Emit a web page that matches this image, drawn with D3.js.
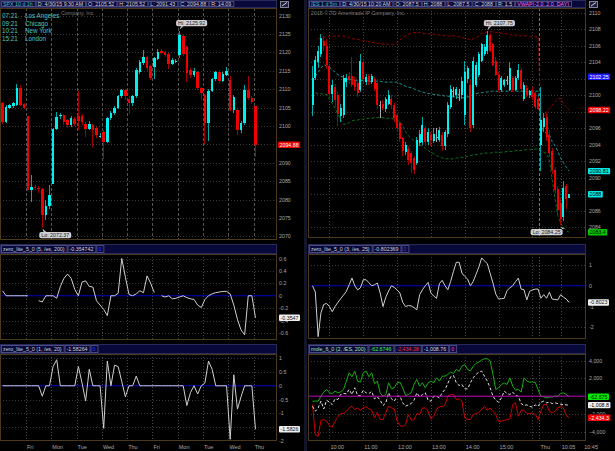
<!DOCTYPE html>
<html><head><meta charset="utf-8">
<script src="https://cdn.jsdelivr.net/npm/d3@7/dist/d3.min.js"></script>
<style>html,body{margin:0;padding:0;background:#000;overflow:hidden}svg{display:block}</style>
</head><body>
<script>
// ================= DATA =================
// SPX 10 d 1h (hourly bars, 7 per session)
const spxDayLabels = ["Fri","Mon","Tue","Wed","Thu","Fri","Mon","Tue","Wed","Thu"];
const spxOpen = [2106.1,2101.1,2105.0,2105.4,2105.7,2110.2,2106.0,
 2102.6,2082.6,2083.4,2083.2,2082.8,2075.8,2078.2,
 2084.1,2099.2,2102.6,2103.0,2101.6,2100.2,2102.0,
 2102.8,2102.8,2100.5,2099.2,2100.2,2099.5,2097.2,
 2098.3,2095.7,2102.1,2103.4,2105.0,2108.0,2109.8,
 2107.2,2106.1,2108.0,2114.7,2117.0,2118.6,2116.3,
 2116.1,2118.1,2120.3,2120.0,2119.5,2116.8,2117.4,
 2119.3,2124.5,2121.4,2115.2,2113.8,2114.7,2110.2,
 2108.4,2100.7,2109.6,2112.7,2114.7,2112.2,2113.8,
 2112.5,2104.3,2104.3,2098.9,2100.7,2109.8,2107.5,
 2105.52];
const spxHigh = [2106.5,2105.8,2106.0,2106.5,2111.3,2111.0,2106.3,
 2102.6,2086.7,2084.0,2083.8,2083.2,2080.0,2084.0,
 2099.5,2103.9,2103.5,2103.3,2102.0,2102.6,2102.4,
 2109.6,2103.2,2101.0,2101.2,2100.6,2099.8,2098.2,
 2098.8,2102.5,2104.0,2105.3,2108.5,2110.0,2110.0,
 2108.0,2108.5,2115.6,2118.0,2120.5,2119.0,2116.5,
 2118.8,2120.9,2120.8,2120.4,2119.8,2118.4,2118.3,
 2125.92,2125.0,2121.8,2115.6,2115.6,2115.0,2110.6,
 2108.6,2110.0,2113.0,2115.0,2115.2,2114.6,2116.0,
 2113.6,2108.4,2104.8,2101.4,2111.0,2113.6,2108.0,
 2105.52];
const spxLow = [2100.5,2100.8,2104.6,2105.0,2105.5,2105.3,2104.6,
 2082.2,2079.4,2082.5,2081.8,2072.37,2074.5,2077.5,
 2084.1,2099.0,2102.0,2100.3,2099.4,2099.8,2100.0,
 2099.0,2100.2,2097.0,2098.8,2094.4,2096.6,2096.8,
 2091.1,2095.4,2101.6,2103.0,2104.6,2107.6,2107.0,
 2103.2,2105.5,2107.5,2114.2,2116.5,2114.8,2112.5,
 2112.8,2117.8,2119.5,2118.8,2115.5,2116.5,2117.0,
 2118.5,2119.0,2112.0,2113.0,2113.4,2109.8,2107.0,
 2095.0,2096.0,2109.2,2112.3,2111.6,2111.8,2113.5,
 2104.0,2103.5,2097.4,2098.2,2100.3,2107.0,2106.0,
 2091.43];
const spxClose = [2101.1,2105.2,2105.6,2106.1,2110.2,2105.7,2105.0,
 2082.6,2083.5,2083.0,2082.9,2075.8,2078.2,2081.2,
 2099.2,2102.5,2103.0,2101.1,2100.2,2102.2,2100.4,
 2101.2,2101.0,2099.2,2100.6,2098.8,2097.4,2097.3,
 2095.7,2102.1,2103.4,2105.0,2108.0,2109.8,2108.0,
 2106.1,2108.0,2115.2,2117.4,2118.6,2115.6,2112.9,
 2118.4,2120.2,2119.9,2119.2,2116.8,2117.9,2117.7,
 2124.7,2119.5,2114.5,2113.8,2115.0,2110.2,2109.0,
 2100.7,2109.6,2112.7,2114.7,2112.2,2114.2,2114.8,
 2104.3,2107.8,2098.9,2100.9,2109.8,2107.5,2106.6,
 2094.88];
const spxPriceTicks = [2070,2075,2080,2085,2090,2095,2100,2105,2110,2115,2120,2125,2130];
// zero_lite_5_0 (5, /es, 200)
const spxZero5 = [0.08,0,0,0,0,0,0,0,null,null,
 -0.08,-0.1,0,0,0,-0.04,0.15,0.28,0.35,0.28,
 0.1,0,0.22,0.24,0.15,0.14,-0.08,-0.15,-0.22,-0.32,
 0,0,0.04,0.6,0.3,0.02,0,0.03,0.08,0.05,
 0.32,0.2,0.05,null,0,-0.02,0,-0.05,-0.04,-0.02,
 0,-0.03,-0.05,-0.06,-0.15,-0.19,-0.06,0,0.03,0.05,
 0.06,0.07,0.07,0.03,-0.15,-0.38,-0.55,-0.63,0,0,
 -0.354742];
const spxZero5Ticks = [0.6,0.4,0.2,0,-0.2,-0.4,-0.6];
// zero_lite_5_0 (1, /es, 20)
const spxZero1 = [0,0,0,0,0,0,0,0,0,0,
 0,-0.38,0,0,0.7,0.95,0,0,0,0,
 0,0.7,0.1,-0.55,0.6,0,0,0,-1.55,0.9,
 0,0.75,0.7,0.15,-0.4,0,0,0.35,0,0,
 0,0,0,0,0,0,0,0,0,0,
 0,-0.72,-0.25,0,-0.3,0,0.1,0.9,0.6,0,
 0,0,0,-1.95,0.4,-0.85,-0.4,0,0,0,
 -1.58264];
const spxZero1Ticks = [1,0.5,0,-0.5,-1,-1.5,-2];

// /ES 1 d 5m
const esOpen = [2098.8,2102.1,2104.0,2105.0,2106.6,2106.0,2103.5,2100.2,2101.0,2100.0,
 2097.5,2097.6,2101.6,2102.4,2102.3,2101.8,2101.5,2100.7,2104.0,2101.6,
 2102.3,2101.6,2102.0,2101.5,2098.8,2099.0,2098.4,2099.0,2099.6,2098.8,
 2097.6,2096.6,2094.8,2093.1,2093.5,2093.0,2092.4,2091.8,2094.2,2094.3,
 2096.0,2094.3,2095.2,2094.5,2095.0,2094.6,2095.2,2093.8,2095.3,2098.6,
 2100.5,2100.0,2100.2,2100.0,2097.6,2102.0,2101.3,2096.4,2101.3,2102.5,
 2104.2,2105.0,2105.4,2107.3,2106.2,2104.2,2102.5,2100.7,2101.3,2101.9,
 2100.7,2102.1,2100.7,2102.1,2103.1,2099.6,2100.9,2100.0,2100.7,2100.3,
 2099.6,2094.0,2096.2,2097.4,2095.2,2093.3,2091.0,2088.6,2087.0,2085.2,2089.0,2087.5];
const esHigh = [2103.5,2104.8,2106.0,2107.4,2107.2,2106.8,2103.8,2101.8,2101.4,2100.4,
 2099.0,2102.5,2102.6,2102.8,2104.6,2102.2,2101.8,2105.0,2104.3,2102.6,
 2102.6,2102.6,2102.2,2101.8,2099.3,2099.4,2099.8,2100.6,2100.0,2099.1,
 2097.8,2096.9,2095.0,2094.4,2093.8,2093.2,2092.6,2095.0,2095.8,2097.4,
 2096.3,2096.0,2095.6,2096.0,2096.0,2096.2,2095.6,2095.8,2099.2,2101.2,
 2101.0,2101.0,2100.8,2102.2,2104.2,2103.6,2101.8,2104.6,2104.0,2105.3,
 2106.4,2106.2,2107.75,2107.6,2106.4,2104.6,2102.8,2102.4,2102.0,2102.4,
 2104.0,2102.4,2102.4,2103.8,2103.3,2101.6,2101.2,2100.6,2101.0,2100.5,
 2099.8,2101.0,2097.8,2097.8,2095.8,2093.6,2091.3,2089.0,2087.5,2089.6,2089.3,2088.0];
const esLow = [2097.5,2101.8,2103.3,2104.6,2105.4,2103.2,2099.6,2099.2,2098.6,2096.3,
 2096.8,2097.2,2101.0,2101.4,2101.0,2100.5,2099.8,2100.4,2101.5,2101.2,
 2101.2,2101.4,2100.5,2098.4,2097.2,2098.2,2098.0,2098.8,2098.3,2096.8,
 2095.5,2094.3,2092.6,2092.8,2091.6,2090.6,2090.5,2091.5,2093.9,2094.0,
 2094.0,2094.0,2093.8,2094.2,2094.3,2094.3,2093.2,2093.4,2095.0,2098.4,
 2099.8,2099.6,2099.3,2099.6,2096.4,2101.5,2095.6,2096.0,2101.0,2102.2,
 2104.0,2104.8,2105.0,2105.2,2103.5,2102.3,2100.4,2100.4,2101.0,2101.2,
 2100.5,2100.4,2100.5,2101.8,2100.5,2099.3,2099.8,2099.7,2099.4,2098.4,
 2098.2,2090.8,2095.5,2094.5,2092.5,2090.5,2088.0,2085.6,2084.25,2084.8,2086.2,2087.5];
const esClose = [2102.1,2104.3,2105.4,2107.0,2106.0,2103.7,2100.2,2101.2,2099.4,2097.7,
 2098.5,2102.1,2102.1,2101.8,2101.3,2101.0,2100.3,2104.2,2102.0,2102.2,
 2101.6,2102.3,2100.8,2098.8,2098.8,2098.5,2099.5,2100.0,2098.8,2097.2,
 2096.0,2094.7,2093.2,2094.0,2092.2,2091.8,2091.0,2094.6,2095.3,2096.4,
 2094.4,2095.6,2094.6,2095.3,2095.0,2095.8,2093.8,2095.5,2098.8,2100.8,
 2100.5,2100.8,2100.2,2101.7,2102.8,2103.3,2096.0,2104.2,2103.7,2105.0,
 2106.2,2105.8,2107.3,2105.4,2103.7,2102.5,2100.7,2102.1,2101.8,2101.9,
 2103.3,2100.7,2102.1,2103.1,2100.8,2101.3,2100.0,2100.5,2099.8,2098.6,
 2098.4,2097.0,2097.2,2095.0,2093.0,2091.0,2088.5,2086.1,2085.0,2088.8,2087.4,2088.0];
// VWAP(-2.0, 2.0, DAY)
const esVwapUpper = [null,null,2106.8,2107.0,2107.0,2107.1,2107.1,2107.1,2107.2,2107.2,
 2107.2,2107.2,2107.1,2107.0,2106.9,2106.8,2106.8,2106.7,2106.6,2106.6,
 2106.5,2106.4,2106.4,2106.3,2106.3,2106.2,2106.2,2106.2,2106.2,2106.2,
 2106.4,2106.7,2107.0,2107.2,2107.4,2107.5,2107.6,2107.6,2107.6,2107.5,
 2107.5,2107.5,2107.4,2107.4,2107.3,2107.3,2107.3,2107.2,2107.2,2107.2,
 2107.2,2107.2,2107.1,2107.0,2106.9,2106.8,2106.8,2106.8,2107.0,2107.2,
 2107.5,2107.6,2107.7,2107.7,2107.7,2107.6,2107.6,2107.5,2107.5,2107.4,
 2107.4,2107.3,2107.3,2107.3,2107.2,2107.2,2107.2,2107.1,2107.1,2107.1,
 2107.1,2097.0,2097.5,2098.0,2098.4,2098.8,2099.2,2099.6,2099.6,2099.0,2098.6,2098.22];
const esVwap = [null,2102.3,2102.8,2103.3,2103.7,2103.6,2103.4,2103.1,2102.8,2102.5,
 2102.3,2102.2,2102.0,2101.9,2101.9,2101.8,2101.8,2101.8,2101.8,2101.8,
 2101.7,2101.7,2101.7,2101.7,2101.7,2101.6,2101.6,2101.6,2101.6,2101.6,
 2101.6,2101.4,2101.3,2101.1,2101.0,2100.9,2100.8,2100.6,2100.5,2100.4,
 2100.3,2100.2,2100.2,2100.1,2100.1,2100.0,2100.0,2099.9,2099.9,2099.8,
 2099.8,2099.8,2099.7,2099.7,2099.7,2099.8,2099.9,2100.1,2100.2,2100.3,
 2100.3,2100.4,2100.4,2100.5,2100.5,2100.5,2100.5,2100.5,2100.5,2100.5,
 2100.5,2100.5,2100.5,2100.5,2100.5,2100.5,2100.5,2100.5,2100.5,2100.5,
 2100.5,2096.5,2095.6,2095.4,2095.2,2094.4,2093.9,2093.2,2092.4,2091.8,2091.3,2090.81];
const esVwapLower = [null,2100.3,2100.2,2100.2,2100.1,2100.1,2099.5,2099.0,2098.4,2097.7,
 2097.0,2096.5,2096.5,2096.7,2096.9,2097.0,2097.0,2097.1,2097.1,2097.2,
 2097.2,2097.2,2097.3,2097.3,2097.3,2097.3,2097.2,2097.2,2097.2,2097.1,
 2097.0,2096.8,2096.3,2095.6,2095.1,2094.8,2094.5,2094.2,2094.0,2093.8,
 2093.6,2093.3,2093.1,2092.9,2092.7,2092.5,2092.4,2092.3,2092.3,2092.3,
 2092.3,2092.4,2092.4,2092.5,2092.5,2092.6,2092.7,2092.8,2092.8,2092.9,
 2092.9,2093.0,2093.0,2093.0,2093.1,2093.1,2093.1,2093.1,2093.1,2093.2,
 2093.2,2093.2,2093.3,2093.3,2093.3,2093.4,2093.4,2093.4,2093.5,2093.5,
 2093.5,2093.3,2093.1,2092.9,2092.2,2089.8,2087.5,2085.4,2084.5,2084.0,2083.6,2083.4];
const esPrevLevel = 2102.25;
const esPriceTicks = [2084,2086,2088,2090,2092,2094,2096,2098,2100,2102,2104,2106,2108,2110];
const esTimeLabels = ["10:00","11:00","12:00","13:00","14:00","15:00","Thu","10:05","10:45"];
const esTimeBars   = [6,18,30,42,54,66,80.5,88,96];
const esHourGridBars = [6,18,30,42,54,66,78,88];
const esSessionBreak = 80.5;
// zero_lite_5_0 (3, /es, 25)
const esZero3 = [0,-0.3,-2.45,-1.3,-0.9,-0.85,-1.0,-1.25,-1.0,-0.8,
 -0.62,-0.45,-0.27,0.05,0.37,0.0,-0.2,-0.1,0.29,0.29,
 0.15,0,0.05,0.13,-0.35,-1.0,-0.55,-0.25,0,-0.08,
 -0.2,-0.35,-0.8,-1.0,-0.95,-0.97,-1.05,-1.16,-0.43,-0.19,
 0,0.16,-0.35,-0.5,-0.6,0.1,0.26,0,-0.19,0.21,
 0.7,1.13,1.13,0.61,0.45,0.32,0,0.21,0.55,0.9,
 1.34,1.2,1.06,0.6,0.13,-0.4,-0.64,-0.62,-0.6,-0.23,
 -0.1,0,0.2,0.37,-0.16,-0.19,-0.68,-0.27,-0.2,-0.16,
 -0.16,-0.6,-0.43,-0.6,-0.31,-0.64,-0.66,-0.68,-0.43,-0.55,
 -0.64,-0.802369];
const esZero3Ticks = [1,0,-1,-2];
// mole_6_0 (2, /ES, 200)
const esMoleUpper = [-560,-560,-560,0,460,760,380,300,570,380,
 490,760,1700,2640,2190,2830,1700,1590,2640,2830,
 2190,2640,1400,1700,380,0,190,1510,830,950,
 1510,1590,950,80,190,380,1320,1890,1130,1510,
 950,1510,1700,1510,2080,1700,2260,2260,2450,2720,
 2570,3020,2790,3390,3550,3020,2830,3390,3700,3850,
 4070,4220,4220,3960,2450,760,950,1320,1510,1320,
 2080,1130,680,760,460,2080,1700,1590,1590,1550,
 760,0,-70,-190,-110,-70,0,0,300,380,
 190,-62.6746];
const esMoleMid = [-1130,-1700,-1320,-560,-1440,-450,-680,-940,-300,-370,
 190,300,270,760,190,950,80,80,680,380,
 300,530,-300,-70,-450,-1050,-750,380,-300,-560,
 0,0,-750,-1130,-980,-830,-450,380,-70,190,
 380,-450,-560,0,0,-190,380,760,1440,2190,
 2340,1510,1210,1320,830,830,1510,2080,2450,2720,
 2830,2260,1700,950,0,-450,-680,-190,570,300,
 190,460,80,0,-830,-1050,-980,-1130,-1240,-980,
 -1130,-680,-560,-750,-680,-830,-750,-830,-900,-950,
 -980,-1008.76];
const esMoleLower = [-940,-4330,-4520,-2710,-2630,-2820,-3310,-3460,-2820,-2330,
 -1960,-1960,-1700,-1320,-1130,-1500,-1320,-1590,-1320,-1200,
 -1390,-1590,-2440,-1810,-2630,-2630,-1810,-1130,-1320,-1440,
 -2820,-3310,-3390,-3200,-2070,-2710,-2630,-1960,-2070,-1320,
 -1320,-1700,-2560,-2260,-1500,-1130,-1200,-940,0,190,
 190,-370,-300,-560,-2440,-2630,-2630,-2070,-1960,-1810,
 -1500,-1130,-1590,-1320,-1700,-2070,-2820,-2820,-2710,-2630,
 -2560,-940,-750,-2260,-1590,-1590,-1960,-1960,-1880,-2070,
 -2630,-1700,-940,-940,-1700,-1880,-1700,-1320,-1130,-1320,
 -2180,-2434.28];
const esMoleTicks = [4000,2000,0,-2000,-4000];

const clockTimes  = ["07:21","09:21","10:21","15:21"];
const clockCities = ["Los Angeles","Chicago","New York","London"];

// ================= DRAW =================
const COL = {up:"#00f0f0", dn:"#f00000", upW:"#00a8a8", dnW:"#a00000", flat:"#a8a8a8",
  frame:"#4a3a18", grid:"#3a3a3a", sep:"#555555", axis:"#a8a8a8", hdr:"#08083a", hdrBox:"#4a4a80"};
const FONT = "'Liberation Sans', Arial, sans-serif";
const svg = d3.select("body").append("svg").attr("width",615).attr("height",451)
  .style("background","#000").style("font-family",FONT);

const fmtC = d3.format(",");

// ---- scales ----
const xL  = d3.scaleLinear().domain([0,71]).range([0.7,257.3]);          // SPX bar index
const yL  = d3.scaleLinear().domain([2070,2130]).range([236.3,15.5]);
const yL2 = d3.scaleLinear().domain([-0.6,0.6]).range([333,258.5]);
const yL3 = d3.scaleLinear().domain([-2,1]).range([440.7,358.3]);
const xR  = d3.scaleLinear().domain([0,96]).range([312.5,583.2]);         // ES bar index
const yR  = d3.scaleLinear().domain([2084,2108]).range([227.3,29.3]);
const yR2 = d3.scaleLinear().domain([-2,1]).range([327.3,265]);
const yR3 = d3.scaleLinear().domain([-4000,4000]).range([431.7,360.7]);

const P = {
  Lm:{x0:0,y0:8,x1:277,y1:240}, L2:{x0:0,y0:254,x1:277,y1:340}, L3:{x0:0,y0:354,x1:277,y1:441},
  Rm:{x0:308,y0:8,x1:586,y1:238}, R2:{x0:308,y0:254,x1:586,y1:339}, R3:{x0:308,y0:354,x1:586,y1:441}
};

function clipFor(id,p){
  svg.append("clipPath").attr("id",id).append("rect")
    .attr("x",p.x0).attr("y",p.y0).attr("width",p.x1-p.x0).attr("height",p.y1-p.y0);
  return svg.append("g").attr("clip-path",`url(#${id})`);
}
function hGrid(g,p,ticks,y,skip){
  ticks.forEach(t=>{ if(skip!==undefined && t===skip) return;
    g.append("line").attr("x1",p.x0).attr("x2",p.x1).attr("y1",Math.round(y(t))+0.5).attr("y2",Math.round(y(t))+0.5)
     .attr("stroke",COL.grid).attr("stroke-dasharray","1,2");});
}
function vLine(g,p,x,dash,color){
  g.append("line").attr("x1",Math.round(x)+0.5).attr("x2",Math.round(x)+0.5).attr("y1",p.y0).attr("y2",p.y1)
    .attr("stroke",color).attr("stroke-dasharray",dash);
}
function frame(p){
  svg.append("rect").attr("x",p.x0+0.5).attr("y",p.y0+0.5).attr("width",p.x1-p.x0-1).attr("height",p.y1-p.y0-1)
    .attr("fill","none").attr("stroke",COL.frame);
}
// axis labels; labels sitting under a price/value tag are hidden as in the reference
function axisLabels(x,ticks,y,fmt,tagVals){
  const hidden = (tagVals||[]).map(v=>y(v));
  ticks.forEach(t=>{
    if(hidden.some(h=>Math.abs(h-y(t))<2.6)) return;
    svg.append("text").attr("x",x).attr("y",y(t)+2).attr("font-size",5.3)
      .attr("fill",COL.axis).text(fmt?fmt(t):t);
  });
}
function tag(x,yc,text,bg,fg){
  const t = svg.append("text").attr("x",x+1.5).attr("y",yc+2).attr("font-size",5.3).attr("fill",fg).text(text);
  const w = t.node().getComputedTextLength()+3;
  svg.insert("rect",()=>t.node()).attr("x",x).attr("y",yc-3.2).attr("width",w).attr("height",6.4)
    .attr("rx",1).attr("fill",bg);
}
function header(x,y,w,h,items){
  svg.append("rect").attr("x",x).attr("y",y).attr("width",w).attr("height",h).attr("fill",COL.hdr);
  let cx = x+1;
  items.forEach(it=>{
    const t = svg.append("text").attr("x",cx+2).attr("y",y+h/2+2).attr("font-size",5.3)
      .attr("fill",it.c||"#d4d4d4").text(it.t);
    const tw = t.node().getComputedTextLength();
    svg.append("rect").attr("x",cx+0.5).attr("y",y+1.5).attr("width",tw+4).attr("height",h-3)
      .attr("fill","none").attr("stroke",COL.hdrBox);
    cx += tw+5;
  });
  svg.append("rect").attr("x",x+0.5).attr("y",y+0.5).attr("width",w-1).attr("height",h-1)
    .attr("fill","none").attr("stroke","#2a2a5a");
}
function candles(g,xf,y,O,H,L,C,bw){
  O.forEach((o,i)=>{
    const c=C[i], cx=xf(i);
    const flat = c===o, up = c>o;
    const body = flat?COL.flat:(up?COL.up:COL.dn), wick = flat?COL.flat:(up?COL.upW:COL.dnW);
    g.append("line").attr("x1",cx).attr("x2",cx).attr("y1",y(H[i])).attr("y2",y(L[i]))
      .attr("stroke",wick).attr("stroke-width",1).attr("shape-rendering","crispEdges");
    const yt=y(Math.max(o,c)), yb=y(Math.min(o,c));
    g.append("rect").attr("x",cx-bw/2).attr("y",yt).attr("width",bw).attr("height",Math.max(1,yb-yt))
      .attr("fill",body).attr("shape-rendering","crispEdges");
  });
}
function seriesLine(g,xf,y,data,color,w,dash){
  const line = d3.line().defined(d=>d!==null).x((d,i)=>xf(i)).y(d=>y(d));
  const path = g.append("path").datum(data).attr("d",line).attr("fill","none")
    .attr("stroke",color).attr("stroke-width",w||1);
  if(dash) path.attr("stroke-dasharray",dash);
}
function callout(xTip,yTip,text,boxX,boxY){
  const t = svg.append("text").attr("x",boxX+2).attr("y",boxY+4.6).attr("font-size",5.3).attr("fill","#202020").text(text);
  const w = t.node().getComputedTextLength()+4;
  const bh=6.2;
  const attachY = yTip<boxY ? boxY : boxY+bh;
  svg.insert("path",()=>t.node()).attr("d",`M${xTip},${yTip} L${xTip+1.5},${attachY} L${xTip+4},${attachY} Z`).attr("fill","#d0d0d0");
  svg.insert("rect",()=>t.node()).attr("x",boxX).attr("y",boxY).attr("width",w).attr("height",bh).attr("rx",2).attr("fill","#d0d0d0");
}

// ---------- LEFT PANE ----------
const spxX = i=>xL(i+0.5);
const spxSeps = spxDayLabels.map((d,i)=>xL(7*(i+1)));
const spxLast = spxClose[spxClose.length-1];

// main
let g = clipFor("clLm",P.Lm);
hGrid(g,P.Lm,spxPriceTicks,yL);
spxSeps.forEach(x=>vLine(g,P.Lm,x,"3,2",COL.sep));
candles(g,spxX,yL,spxOpen,spxHigh,spxLow,spxClose,2.6);
frame(P.Lm);
axisLabels(279,spxPriceTicks,yL,null,[spxLast]);
svg.append("text").attr("x",61).attr("y",15).attr("font-size",5.3).attr("fill","#7a7a7a").text("Company, Inc.");
clockTimes.forEach((t,i)=>{
  svg.append("text").attr("x",2).attr("y",17.8+i*7.7).attr("font-size",6.3).attr("fill","#4cc8c8").text(t);
  svg.append("text").attr("x",25).attr("y",17.8+i*7.7).attr("font-size",6.3).attr("fill","#4cc8c8").text(clockCities[i]);
});
{
  const hiI = spxHigh.indexOf(d3.max(spxHigh)), loI = spxLow.indexOf(d3.min(spxLow));
  callout(spxX(hiI),yL(spxHigh[hiI])-1,"Hi: "+spxHigh[hiI].toFixed(2),spxX(hiI)-3.5,20);
  callout(spxX(loI),yL(spxLow[loI])+1,"Lo: "+spxLow[loI].toFixed(2),spxX(loI)-3,232);
}
tag(278,yL(spxLast),spxLast.toFixed(2),"#ee0000","#ffffff");
header(0,0,277,8,[{t:"SPX 10 d 1h",c:"#3fc0c0"},{t:"D: 4/30/15 9:30 AM"},{t:"O: 2105.52"},{t:"H: 2105.52"},{t:"L: 2091.43"},{t:"C: 2094.88"},{t:"R: 14.09"}]);

// panel 2
g = clipFor("clL2",P.L2);
hGrid(g,P.L2,spxZero5Ticks,yL2,0);
spxSeps.forEach(x=>vLine(g,P.L2,x,"1,2","#4a4a4a"));
g.append("line").attr("x1",P.L2.x0).attr("x2",P.L2.x1).attr("y1",yL2(0)).attr("y2",yL2(0)).attr("stroke","#0000c8");
seriesLine(g,spxX,yL2,spxZero5,"#cfcfcf",1);
frame(P.L2);
axisLabels(279,spxZero5Ticks,yL2,null,[spxZero5[70]]);
tag(279,yL2(spxZero5[70]),"-0.3547","#f0f0f0","#101010");
header(0,244,277,10,[{t:"zero_lite_5_0 (5, /es, 200)"},{t:"-0.354742"},{t:"0",c:"#4040ff"}]);

// panel 3
g = clipFor("clL3",P.L3);
hGrid(g,P.L3,spxZero1Ticks,yL3,0);
spxSeps.forEach(x=>vLine(g,P.L3,x,"1,2","#4a4a4a"));
g.append("line").attr("x1",P.L3.x0).attr("x2",P.L3.x1).attr("y1",yL3(0)).attr("y2",yL3(0)).attr("stroke","#0000c8");
seriesLine(g,spxX,yL3,spxZero1,"#cfcfcf",1);
frame(P.L3);
axisLabels(279,spxZero1Ticks,yL3,null,[spxZero1[70]]);
tag(279,yL3(spxZero1[70]),"-1.5826","#f0f0f0","#101010");
header(0,344,277,10,[{t:"zero_lite_5_0 (1, /es, 20)"},{t:"-1.58264"},{t:"0",c:"#4040ff"}]);
spxDayLabels.forEach((d,i)=>svg.append("text").attr("x",spxSeps[i]+1).attr("y",449).attr("font-size",5.5).attr("fill",COL.axis).text(d));

// ---------- PANE SEPARATOR ----------
svg.append("rect").attr("x",304).attr("y",0).attr("width",3).attr("height",451).attr("fill","#15152a");

// ---------- RIGHT PANE ----------
const esX = i=>xR(i);
const esN = esClose.length-1;
g = clipFor("clRm",P.Rm);
hGrid(g,P.Rm,esPriceTicks,yR);
esHourGridBars.forEach(b=>vLine(g,P.Rm,xR(b),"1,2","#444"));
vLine(g,P.Rm,xR(esSessionBreak),"3,2","#777");
seriesLine(g,esX,yR,esVwapUpper,"#a00000",0.9,"3,2");
seriesLine(g,esX,yR,esVwap,"#1fa0a0",0.9,"3,2");
seriesLine(g,esX,yR,esVwapLower,"#0e7a1a",0.9,"3,2");
candles(g,esX,yR,esOpen,esHigh,esLow,esClose,2);
frame(P.Rm);
axisLabels(589,esPriceTicks,yR,null,[esPrevLevel,esVwapUpper[esN],esVwap[esN],esClose[esN]]);
svg.append("text").attr("x",311).attr("y",15).attr("font-size",5.3).attr("fill","#7a7a7a").text("2015 © TD Ameritrade IP Company, Inc.");
{
  const hiI = esHigh.indexOf(d3.max(esHigh)), loI = esLow.indexOf(d3.min(esLow));
  callout(esX(hiI),yR(esHigh[hiI])-1,"Hi: "+esHigh[hiI].toFixed(2),esX(hiI)-3.5,20);
  callout(esX(loI),yR(esLow[loI])+1,"Lo: "+esLow[loI].toFixed(2),esX(loI)-30,229);
}
tag(588,yR(esPrevLevel),esPrevLevel.toFixed(2),"#1a1aff","#ffffff");
tag(588,yR(esVwapUpper[esN]),esVwapUpper[esN].toFixed(2),"#ee0000","#ffffff");
tag(588,yR(esVwap[esN]),esVwap[esN].toFixed(2),"#00e8e8","#000000");
tag(588,yR(esClose[esN]),String(esClose[esN]),"#00e8e8","#000000");
tag(588,yR(esVwapLower[esN]),esVwapLower[esN].toFixed(1),"#00c800","#000000");
header(308,0,278,8,[{t:"/ES 1 d 5m",c:"#3fc0c0"},{t:"D: 4/30/15 10:20 AM"},{t:"O: 2087.5"},{t:"H: 2088"},{t:"L: 2087.5"},{t:"C: 2088"},{t:"R: 1.5"},{t:"VWAP(-2.0, 2.0, DAY)",c:"#ff70ff"}]);

// panel 2
g = clipFor("clR2",P.R2);
hGrid(g,P.R2,esZero3Ticks,yR2,0);
esHourGridBars.forEach(b=>vLine(g,P.R2,xR(b),"1,2","#444"));
vLine(g,P.R2,xR(esSessionBreak),"1,2","#555");
g.append("line").attr("x1",P.R2.x0).attr("x2",P.R2.x1).attr("y1",yR2(0)).attr("y2",yR2(0)).attr("stroke","#0000c8");
seriesLine(g,esX,yR2,esZero3,"#cfcfcf",1);
frame(P.R2);
axisLabels(589,esZero3Ticks,yR2,null,[esZero3[esN]]);
tag(588,yR2(esZero3[esN]),"-0.8023","#f0f0f0","#101010");
header(308,244,278,10,[{t:"zero_lite_5_0 (3, /es, 25)"},{t:"-0.802369"},{t:"0",c:"#4040ff"}]);

// panel 3
g = clipFor("clR3",P.R3);
hGrid(g,P.R3,esMoleTicks,yR3,0);
esHourGridBars.forEach(b=>vLine(g,P.R3,xR(b),"1,2","#444"));
vLine(g,P.R3,xR(esSessionBreak),"1,2","#555");
seriesLine(g,esX,yR3,esMoleLower,"#c80000",1);
seriesLine(g,esX,yR3,esMoleUpper,"#10b010",1);
seriesLine(g,esX,yR3,esMoleMid,"#e0e0e0",1,"3,2");
g.append("line").attr("x1",P.R3.x0).attr("x2",P.R3.x1).attr("y1",yR3(0)).attr("y2",yR3(0)).attr("stroke","#c000c0");
frame(P.R3);
axisLabels(589,esMoleTicks,yR3,fmtC,[esMoleUpper[esN],esMoleMid[esN]]);
tag(588,yR3(esMoleUpper[esN]),"-62.675","#00ee00","#000000");
tag(588,yR3(esMoleMid[esN]),"-1,008.8","#f0f0f0","#000000");
tag(588,yR3(esMoleLower[esN]),"-2,434.3","#ee0000","#ffffff");
header(308,344,278,10,[{t:"mole_6_0 (2, /ES, 200)",c:"#a8e8a8"},{t:"-62.6746",c:"#30ff30"},{t:"-2,434.28",c:"#ff3030"},{t:"-1,008.76"},{t:"0",c:"#ff40ff"}]);
esTimeLabels.forEach((t,i)=>svg.append("text").attr("x",xR(esTimeBars[i])+1).attr("y",449).attr("font-size",5.5).attr("fill",COL.axis).text(t));

// header icons
[[280,1],[589,1]].forEach(([x,y])=>{
  svg.append("rect").attr("x",x+0.5).attr("y",y+0.5).attr("width",8).attr("height",6).attr("fill","#202040").attr("stroke","#8080a0");
  svg.append("path").attr("d",`M${x+2},${y+5} L${x+7},${y+1.5}`).attr("stroke","#d0d0d0");
});
</script>
</body></html>
